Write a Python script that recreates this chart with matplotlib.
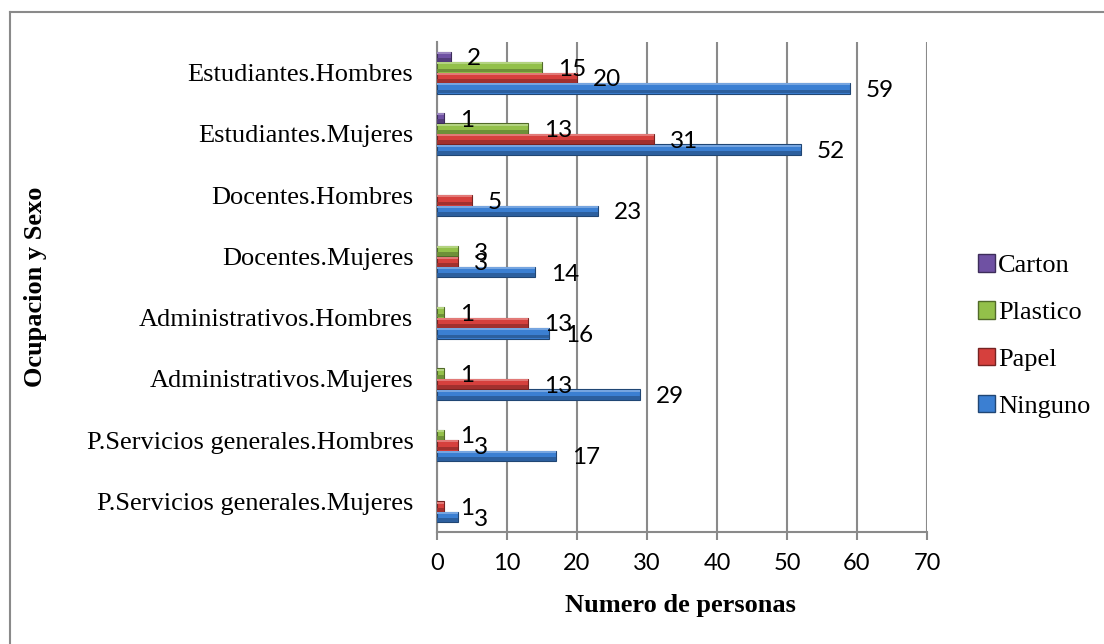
"""Grafico de barras horizontales: residuos separados por ocupacion y sexo."""

import matplotlib

matplotlib.use("Agg")
import matplotlib.pyplot as plt
import numpy as np
from matplotlib.colors import to_rgb
from matplotlib.lines import Line2D
from matplotlib.patches import Patch

# categorias de abajo hacia arriba
categories = [
    "P.Servicios generales.Mujeres",
    "P.Servicios generales.Hombres",
    "Administrativos.Mujeres",
    "Administrativos.Hombres",
    "Docentes.Mujeres",
    "Docentes.Hombres",
    "Estudiantes.Mujeres",
    "Estudiantes.Hombres",
]
ninguno = [3, 17, 29, 16, 14, 23, 52, 59]
papel = [1, 3, 13, 13, 3, 5, 31, 20]
plastico = [0, 1, 1, 1, 3, 0, 13, 15]
carton = [0, 0, 0, 0, 0, 0, 1, 2]
series_names = ["Ninguno", "Papel", "Plastico", "Carton"]
x_ticks = [0, 10, 20, 30, 40, 50, 60, 70]

COLORS = ["#3b7fd2", "#d6403d", "#93c04a", "#6f51a3"]
SERIF = ["Liberation Serif", "DejaVu Serif"]
SANS = ["Lato", "DejaVu Sans"]
GRID = "#8a8a8a"

plt.rcParams["font.family"] = SERIF


def shade(color, f):
    r, g, b = to_rgb(color)
    if f < 1:
        return (r * f, g * f, b * f)
    return tuple(c + (1 - c) * (f - 1) for c in (r, g, b))


fig = plt.figure(figsize=(11.04, 6.44), dpi=100)
ax = fig.add_axes([437 / 1104, 1 - 532 / 644, 490 / 1104, 490 / 644])

y = np.arange(len(categories))
h = 0.171
all_series = [ninguno, papel, plastico, carton]

for k, (vals, color) in enumerate(zip(all_series, COLORS)):
    vals = np.array(vals)
    pos = y + (k - 1.5) * h
    keep = vals > 0
    vals, pos = vals[keep], pos[keep]
    dark = shade(color, 0.55)
    ax.barh(pos, vals, height=h, color=color, edgecolor=dark, linewidth=0.8, zorder=3)
    # efecto biselado: franja inferior oscura y superior clara
    ax.barh(pos - h * 0.3, vals, height=h * 0.35, color=shade(color, 0.75), linewidth=0, zorder=3.1)
    ax.barh(pos + h * 0.38, vals, height=h * 0.2, color=shade(color, 1.3), linewidth=0, zorder=3.1)
    for v, p in zip(vals, pos):
        ax.annotate(str(v), (v, p), xytext=(11.5, -1.5), textcoords="offset points",
                    ha="left", va="center", fontsize=17.5, family=SANS, zorder=4)

ax.set_xlim(0, 70)
ax.set_ylim(-0.5, len(categories) - 0.5)
ax.set_xticks(x_ticks)
ax.set_xticklabels([str(t) for t in x_ticks], family=SANS, fontsize=17)
ax.set_yticks(y)
ax.set_yticklabels(categories, family=SERIF, fontsize=19)
ax.tick_params(axis="y", length=0, pad=17)
ax.tick_params(axis="x", length=6, width=1.5, color=GRID, pad=9)
ax.xaxis.grid(True, color=GRID, linewidth=1.5, zorder=0)
ax.set_axisbelow(True)
for side in ("top", "right"):
    ax.spines[side].set_visible(False)
for side in ("left", "bottom"):
    ax.spines[side].set_color(GRID)
    ax.spines[side].set_linewidth(1.5)

ax.set_xlabel("Numero de personas", family=SERIF, fontsize=19, fontweight="bold")
ax.xaxis.set_label_coords(0.496, -0.149)
ax.xaxis.label.set_va("center")
ax.set_ylabel("Ocupacion y Sexo", family=SERIF, fontsize=19, fontweight="bold")
ax.yaxis.set_label_coords(-0.82, 0.5)
ax.yaxis.label.set_va("center")

handles = [Patch(facecolor=COLORS[k], edgecolor=shade(COLORS[k], 0.55), label=series_names[k])
           for k in (3, 2, 1, 0)]
leg = fig.legend(handles=handles, loc="center left", bbox_to_anchor=(978 / 1104, 1 - 336 / 644),
                 frameon=False, fontsize=19, handlelength=0.65, handleheight=0.65,
                 handletextpad=0.12, labelspacing=0.9, borderpad=0, borderaxespad=0)
for t in leg.get_texts():
    t.set_family(SERIF)

# borde del area del grafico
fig.add_artist(Line2D([9.5 / 1104, 9.5 / 1104], [0, 1 - 12 / 644], transform=fig.transFigure,
                      color=GRID, linewidth=1.5))
fig.add_artist(Line2D([9.5 / 1104, 1], [1 - 12 / 644, 1 - 12 / 644], transform=fig.transFigure,
                      color=GRID, linewidth=1.5))

fig.savefig("out.png", dpi=100)
